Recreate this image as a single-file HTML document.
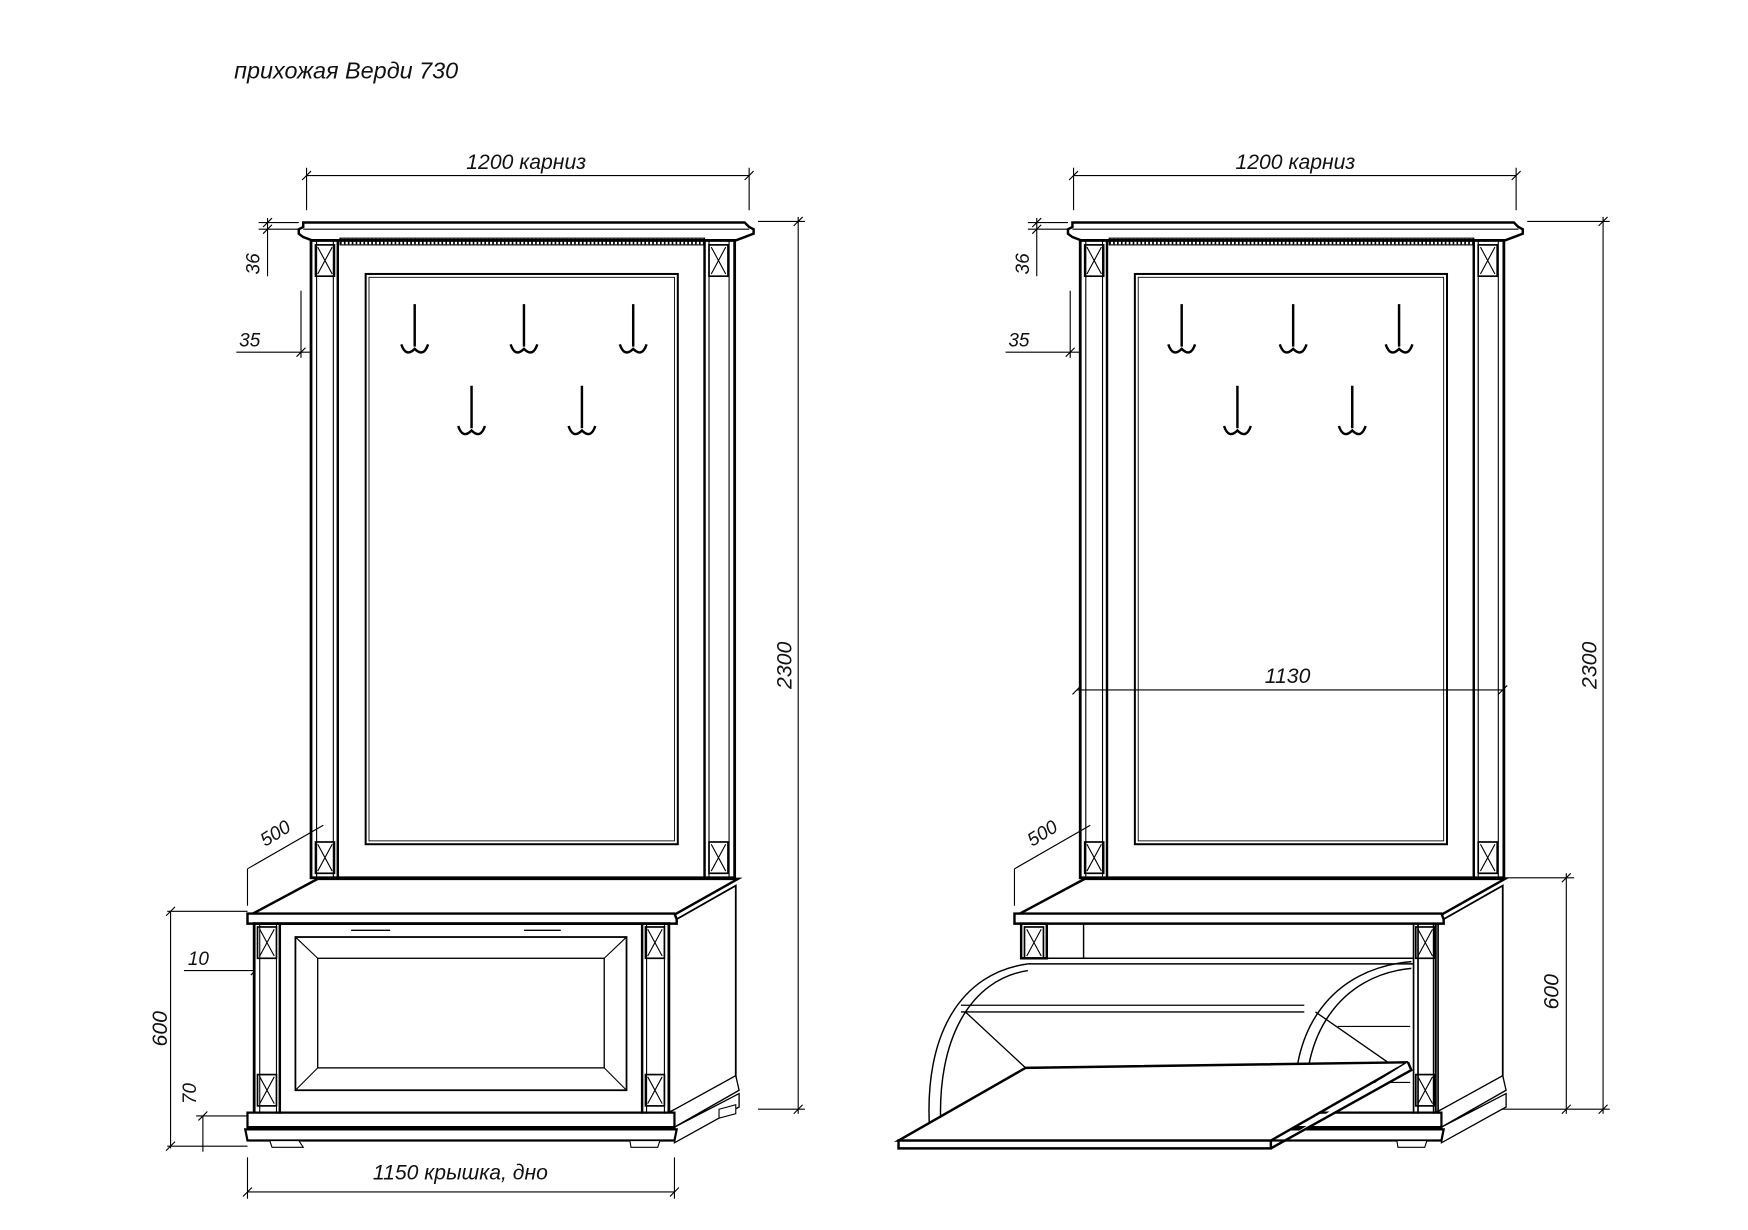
<!DOCTYPE html>
<html><head><meta charset="utf-8"><style>
html,body{margin:0;padding:0;background:#fff}
svg{display:block}
text{font-family:"Liberation Sans Narrow","Liberation Sans","DejaVu Sans",sans-serif;font-style:italic;fill:#111}
</style></head><body>
<svg width="1748" height="1230" viewBox="0 0 1568 1100" preserveAspectRatio="none" xmlns="http://www.w3.org/2000/svg">
<defs>
<g id="xb"><rect x="0" y="0" width="17" height="28" fill="none" stroke="#000" stroke-width="1.5"/><path d="M2 2 L15 26 M15 2 L2 26" stroke="#000" stroke-width="1"/></g>
<g id="hook"><path d="M0 0 L0 38 M-12 36 Q-8 48 0 40 Q8 48 12 36" fill="none" stroke="#000" stroke-width="2.2"/></g>
<g id="upper">
<path d="M272 199 L668 199 L672 203 L676 205 L676 209 L668 212 L660 215 L280 215 L272 212 L268 209 L268 205 L272 203 Z" fill="#fff" stroke="#000" stroke-width="2.2"/>
<line x1="272" y1="205" x2="672" y2="205" stroke="#000" stroke-width="1"/>
<rect x="305" y="213" width="327" height="6" fill="none" stroke="#000" stroke-width="1"/>
<path d="M305 216 H632" stroke="#000" stroke-width="5" stroke-dasharray="1.5 2"/>
<rect x="279" y="215" width="380" height="570" fill="none" stroke="#000" stroke-width="2.5"/>
<line x1="303" y1="215" x2="303" y2="785" stroke="#000" stroke-width="2.2"/>
<line x1="632" y1="215" x2="632" y2="785" stroke="#000" stroke-width="2.2"/>
<line x1="284" y1="215" x2="284" y2="785" stroke="#000" stroke-width="1"/>
<line x1="299" y1="215" x2="299" y2="785" stroke="#000" stroke-width="1"/>
<line x1="636" y1="215" x2="636" y2="785" stroke="#000" stroke-width="1"/>
<line x1="654" y1="215" x2="654" y2="785" stroke="#000" stroke-width="1"/>
<use href="#xb" x="283" y="219"/><use href="#xb" x="636" y="219"/>
<use href="#xb" x="283" y="753"/><use href="#xb" x="636" y="753"/>
<rect x="328" y="245" width="280" height="510" fill="none" stroke="#000" stroke-width="1.8"/>
<rect x="331" y="248" width="274" height="504" fill="none" stroke="#000" stroke-width="0.8"/>
</g>
</defs>

<text x="210" y="70" font-size="21">прихожая Верди 730</text>

<use href="#upper"/>
<use href="#hook" x="372" y="272"/><use href="#hook" x="470" y="272"/><use href="#hook" x="568" y="272"/>
<use href="#hook" x="423" y="345"/><use href="#hook" x="522" y="345"/>
<g stroke="#000" stroke-width="1" fill="none">
<path d="M275 150 V188 M672 150 V188 M275 157 H672"/>
<path d="M271 161 L279 153 M668 161 L676 153"/>
<path d="M680 198 H722 M680 992 H722 M716 194 V996 M712 202 L720 194 M712 996 L720 988"/>
<path d="M232 199 H268 M232 205 H268 M240 195 V247 M236 203 L244 195 M236 209 L244 201"/>
<path d="M212 315 H280 M270 260 V320 M266 319 L274 311"/>
<path d="M222 777 L290 738 M222 777 V810"/>
<path d="M150 815 H222 M153 815 V1027 M149 819 L157 811 M150 1025 H222 M149 1029 L157 1021"/>
<path d="M182 998 V1030 M178 1002 L186 994 M176 998 H222"/>
<path d="M165 868 H230 M225 872 L233 864"/>
<path d="M222 1035 V1072 M605 1035 V1072 M222 1066 H605 M218 1070 L226 1062 M601 1070 L609 1062"/>
</g>
<text x="472" y="151" font-size="19" text-anchor="middle">1200 карниз</text>
<text x="233" y="236" font-size="17" transform="rotate(-90 233 236)" text-anchor="middle">36</text>
<text x="224" y="310" font-size="17" text-anchor="middle">35</text>
<text x="250" y="750" font-size="17" text-anchor="middle" transform="rotate(-32 250 750)">500</text>
<text x="710" y="595" font-size="19" text-anchor="middle" transform="rotate(-90 710 595)">2300</text>
<text x="150" y="920" font-size="19" text-anchor="middle" transform="rotate(-90 150 920)">600</text>
<text x="176" y="978" font-size="17" text-anchor="middle" transform="rotate(-90 176 978)">70</text>
<text x="178" y="863" font-size="17" text-anchor="middle">10</text>
<text x="413" y="1055" font-size="19" text-anchor="middle">1150 крышка, дно</text>

<g stroke="#000" fill="#fff">
<path d="M225 818 L285 786 L662 786 L605 818 Z" stroke-width="2.2"/>
<path d="M600 826 L660 792 L660 965 L600 995 Z" stroke-width="1.6"/>
<path d="M600 995 L660 962 L663 975 L605 1008 Z M605 1008 L663 978 L663 990 L605 1022 Z" stroke-width="1.2"/>
<path d="M645 992 L660 988 L660 996 L645 1000 Z" stroke-width="1"/>
<path d="M222 817 H605 L607 822 V826 H222 Z" stroke-width="2.2"/>
<rect x="228" y="826" width="372" height="170" stroke-width="2.5"/>
<path d="M222 995 H605 V1008 H222 Z M220 1010 H607 L605 1020 H222 Z" stroke-width="2"/>
<path d="M242 1020 H268 L272 1026 H244 Z M565 1020 H592 L590 1026 H566 Z" stroke-width="1"/>
</g>
<g stroke="#000" fill="none">
<line x1="251" y1="826" x2="251" y2="996" stroke-width="2.2"/>
<line x1="576" y1="826" x2="576" y2="996" stroke-width="2.2"/>
<line x1="233" y1="826" x2="233" y2="996" stroke-width="1"/>
<line x1="248" y1="826" x2="248" y2="996" stroke-width="1"/>
<line x1="580" y1="826" x2="580" y2="996" stroke-width="1"/>
<line x1="596" y1="826" x2="596" y2="996" stroke-width="1"/>
<rect x="265" y="838" width="297" height="137" stroke-width="1.6"/>
<rect x="285" y="857" width="257" height="98" stroke-width="1.2"/>
<path d="M265 838 L285 857 M562 838 L542 857 M265 975 L285 955 M562 975 L542 955" stroke-width="1"/>
<path d="M315 832 H350 M470 832 H503" stroke-width="1.2"/>
</g>
<use href="#xb" x="231" y="829"/><use href="#xb" x="579" y="829"/>
<use href="#xb" x="231" y="961"/><use href="#xb" x="579" y="961"/>

<use href="#upper" x="690"/>
<use href="#hook" x="1060" y="272"/><use href="#hook" x="1160" y="272"/><use href="#hook" x="1255" y="272"/>
<use href="#hook" x="1110" y="345"/><use href="#hook" x="1213" y="345"/>
<g stroke="#000" stroke-width="1" fill="none">
<path d="M963 150 V188 M1360 150 V188 M963 157 H1360 M959 161 L967 153 M1356 161 L1364 153"/>
<path d="M1370 198 H1444 M1340 992 H1444 M1438 194 V996 M1434 202 L1442 194 M1434 996 L1442 988"/>
<path d="M922 199 H958 M922 205 H958 M930 195 V247 M926 203 L934 195 M926 209 L934 201"/>
<path d="M902 315 H970 M960 260 V320 M956 319 L964 311"/>
<path d="M910 777 L978 738 M910 777 V810"/>
<path d="M1350 785 H1412 M1405 781 V996 M1401 789 L1409 781 M1401 996 L1409 988"/>
<path d="M966 617 H1348 M962 621 L970 613 M1344 621 L1352 613"/>
</g>
<text x="1162" y="151" font-size="19" text-anchor="middle">1200 карниз</text>
<text x="923" y="236" font-size="17" transform="rotate(-90 923 236)" text-anchor="middle">36</text>
<text x="914" y="310" font-size="17" text-anchor="middle">35</text>
<text x="938" y="750" font-size="17" text-anchor="middle" transform="rotate(-32 938 750)">500</text>
<text x="1155" y="611" font-size="19" text-anchor="middle">1130</text>
<text x="1432" y="595" font-size="19" text-anchor="middle" transform="rotate(-90 1432 595)">2300</text>
<text x="1398" y="887" font-size="19" text-anchor="middle" transform="rotate(-90 1398 887)">600</text>

<g stroke="#000" fill="#fff">
<path d="M913 818 L973 786 L1350 786 L1293 818 Z" stroke-width="2.2"/>
<path d="M1288 826 L1348 792 L1348 965 L1288 995 Z" stroke-width="1.6"/>
<path d="M1288 995 L1348 962 L1351 975 L1293 1008 Z M1293 1008 L1351 978 L1351 990 L1293 1022 Z" stroke-width="1.2"/>
<path d="M910 817 H1293 L1295 822 V826 H910 Z" stroke-width="2.2"/>
<path d="M1145 995 H1293 V1008 H1145 Z M1140 1010 H1295 L1293 1020 H1140 Z" stroke-width="2"/>
<path d="M1253 1020 H1280 L1278 1026 H1254 Z" stroke-width="1"/>
</g>
<g stroke="#000" fill="none">
<rect x="916" y="826" width="23" height="31" stroke-width="2.2"/>
<path d="M972 826 V857 M939 857 H1268 M922 862 H1268" stroke-width="1.3"/>
<path d="M1268 826 V996 M1290 826 V996 M1272 826 V996 M1286 826 V996" stroke-width="1.5"/>
<path d="M922 862 C862 870 828 925 834 1012" stroke-width="1.3"/>
<path d="M922 868 C870 876 840 930 844 1008" stroke-width="1.3"/>
<path d="M1266 860 C1195 866 1155 920 1162 1000" stroke-width="1.3"/>
<path d="M1266 866 C1203 872 1166 925 1172 996" stroke-width="1.3"/>
<path d="M862 899 H1170 M862 905 H1170" stroke-width="1.2"/>
<path d="M866 905 L920 955 M1180 905 L1245 950" stroke-width="1.2"/>
<path d="M1200 918 H1265 M1165 955 H1240 M1230 968 H1265" stroke-width="1"/>
</g>
<path d="M806 1020 L920 955 L1263 950 L1140 1020 Z" fill="#fff" stroke="#000" stroke-width="2.2"/>
<path d="M806 1020 H1140 V1027 H806 Z M1140 1027 L1266 957 L1263 950" fill="#fff" stroke="#000" stroke-width="2.2"/>
<use href="#xb" x="919" y="829"/><use href="#xb" x="1270" y="829"/>
<use href="#xb" x="1270" y="961"/>
</svg>
</body></html>
